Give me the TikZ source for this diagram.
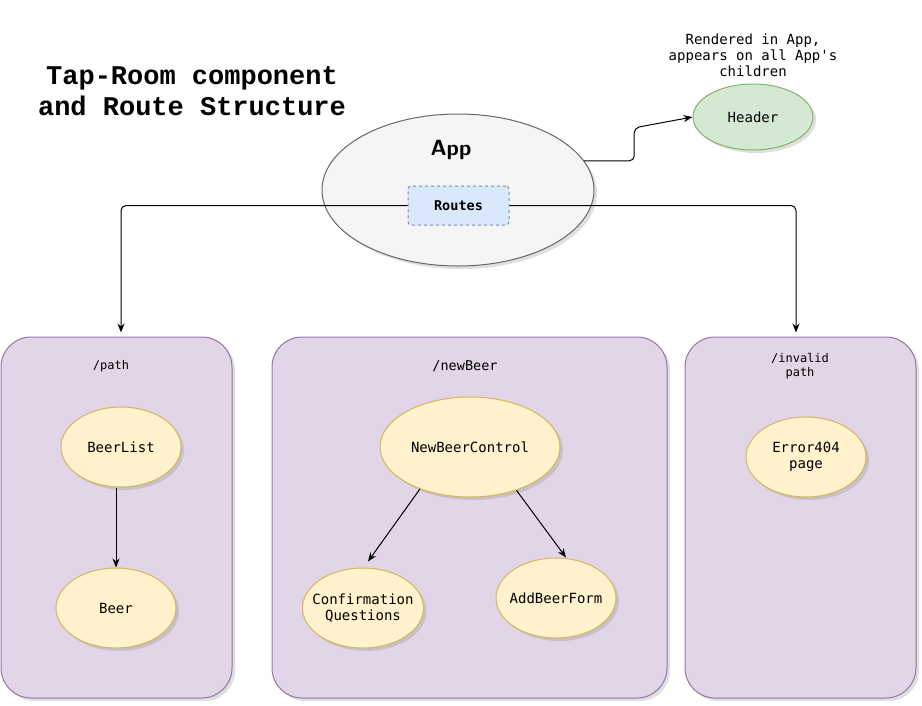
\documentclass[tikz,border=0pt]{standalone}
\usepackage{fontspec}
\setmainfont{DejaVu Sans}
\setmonofont{DejaVu Sans Mono}
\newfontfamily\titlefont{Liberation Mono}
\usetikzlibrary{arrows.meta,shadows,shapes.geometric}
\definecolor{appfill}{HTML}{F5F5F5}
\definecolor{appline}{HTML}{666666}
\definecolor{routefill}{HTML}{DAE8FC}
\definecolor{routeline}{HTML}{6C8EBF}
\definecolor{headfill}{HTML}{D5E8D4}
\definecolor{headline}{HTML}{82B366}
\definecolor{boxfill}{HTML}{E1D5E7}
\definecolor{boxline}{HTML}{9673A6}
\definecolor{compfill}{HTML}{FFF2CC}
\definecolor{compline}{HTML}{D6B656}

\begin{document}
\begin{tikzpicture}[x=1pt,y=-1pt,line join=round,line width=1pt,
  softshadow/.style={drop shadow={opacity=0.25,shadow xshift=3pt,shadow yshift=-3pt}},
  container/.style={draw=boxline,fill=boxfill,rounded corners=30pt,softshadow},
  comp/.style={ellipse,draw=compline,fill=compfill,softshadow,font=\ttfamily\fontsize{14}{16}\selectfont,align=center,inner sep=-12pt},
  label/.style={font=\ttfamily\fontsize{12}{14}\selectfont,align=center},
  link/.style={-{Stealth[length=9pt,width=7pt]},rounded corners=5pt}]

  \useasboundingbox (0,0) rectangle (922,705);

  % title
  \node[font=\titlefont\bfseries\fontsize{27}{31}\selectfont,align=center] (title) at (192,91) {Tap-Room component\\and Route Structure};

  % app and header
  \node[ellipse,draw=appline,fill=appfill,softshadow,minimum width=272,minimum height=152] (app) at (458,190) {};
  \node[font=\sffamily\bfseries\fontsize{22}{26}\selectfont] (applabel) at (451,150) {App};
  \node[draw=routeline,fill=routefill,dashed,rounded corners=3pt,minimum width=101,minimum height=39,font=\ttfamily\bfseries\fontsize{13.5}{16}\selectfont] (routes) at (458.5,205.5) {Routes};
  \node[ellipse,draw=headline,fill=headfill,softshadow,minimum width=120,minimum height=66,inner sep=-8pt,font=\ttfamily\fontsize{14}{16}\selectfont] (header) at (753,117) {Header};
  \node[font=\ttfamily\fontsize{14}{16}\selectfont,align=center] (note) at (753,55) {Rendered in App,\\appears on all App's\\children};
  \draw[link] (app.13.5) -- ++(50,0) -- ++(0,-33) -- (header.west);

  % route containers
  \node[container,minimum width=231,minimum height=361] (pathbox) at (116.5,517.5) {};
  \node[container,minimum width=395,minimum height=361] (newbox) at (469.5,517.5) {};
  \node[container,minimum width=231,minimum height=361] (invalidbox) at (800.5,517.5) {};
  \node[label] (pathlabel) at (111,366) {/path};
  \node[label,font=\ttfamily\fontsize{13.5}{16}\selectfont] (newlabel) at (465,366) {/newBeer};
  \node[label] (invalidlabel) at (800,366) {/invalid\\path};
  \draw[link] (routes.west) -| ([xshift=4.5pt,yshift=4pt]pathbox.north);
  \draw[link] (routes.east) -| ([xshift=-4.5pt,yshift=4pt]invalidbox.north);

  % components
  \node[comp,minimum width=120,minimum height=80] (beerlist) at (121,447) {BeerList};
  \node[comp,minimum width=120,minimum height=80] (beer) at (116,608) {Beer};
  \node[comp,minimum width=180,minimum height=100] (control) at (470,447) {NewBeerControl};
  \node[comp,minimum width=121,minimum height=80] (confirm) at (363,608) {Confirmation\\Questions};
  \node[comp,minimum width=120,minimum height=80] (addform) at (556,598) {AddBeerForm};
  \node[comp,minimum width=120,minimum height=80] (error) at (806,457) {Error404\\page};
  \draw[link] (beer.north |- beerlist.south) -- (beer.north);
  \draw[link] (control.220) -- ([shift={(5,-6)}]confirm.north);
  \draw[link] (control.317) -- ([xshift=10pt]addform.north);

\end{tikzpicture}
\end{document}
